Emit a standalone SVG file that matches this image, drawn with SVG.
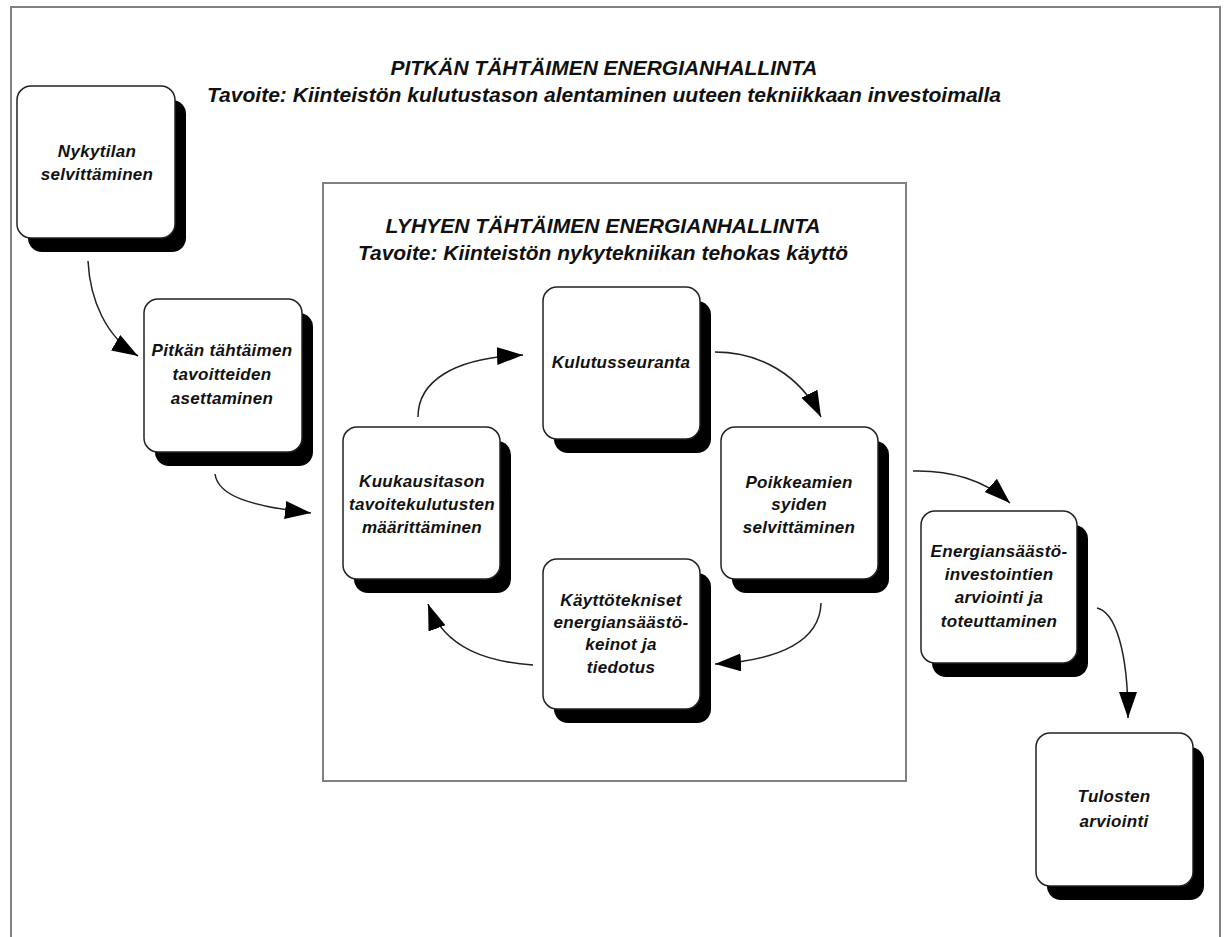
<svg xmlns="http://www.w3.org/2000/svg" width="1227" height="937" viewBox="0 0 1227 937">
<style>
.frame{fill:none;stroke:#808080;stroke-width:2}
.shadow{fill:#000}
.box{fill:#fff;stroke:#222;stroke-width:1.5}
.title{font-family:"Liberation Sans",Arial,sans-serif;font-weight:bold;font-style:italic;font-size:21px;fill:#111;text-anchor:middle}
.lbl{font-family:"Liberation Sans",Arial,sans-serif;font-weight:bold;font-style:italic;font-size:17px;fill:#111;text-anchor:middle;letter-spacing:0.3px}
.conn{fill:none;stroke:#222;stroke-width:1.5}
</style>
<defs>
<marker id="arr" markerUnits="userSpaceOnUse" markerWidth="28" markerHeight="20" refX="26" refY="9" orient="auto" viewBox="0 0 28 20">
<path d="M0,0 L26,9 L0,18 Z" fill="#000"/>
</marker>
</defs>
<rect width="1227" height="937" fill="#fff"/>
<path class="frame" d="M11 945 V7 H1220 V945"/>
<g id="main-title">
<text class="title" x="604" y="75" textLength="427" lengthAdjust="spacingAndGlyphs">PITKÄN TÄHTÄIMEN ENERGIANHALLINTA</text>
<text class="title" x="604" y="102" textLength="794" lengthAdjust="spacingAndGlyphs">Tavoite: Kiinteistön kulutustason alentaminen uuteen tekniikkaan investoimalla</text>
</g>
<g id="short-term-frame">
<rect class="frame" x="323" y="183" width="583" height="598" stroke="#707070"/>
<text class="title" x="603" y="233" textLength="435" lengthAdjust="spacingAndGlyphs">LYHYEN TÄHTÄIMEN ENERGIANHALLINTA</text>
<text class="title" x="603" y="260" textLength="490" lengthAdjust="spacingAndGlyphs">Tavoite: Kiinteistön nykytekniikan tehokas käyttö</text>
</g>
<g id="connectors">
<path class="conn" marker-end="url(#arr)" d="M88 261 C90 300 106 337 138 356"/>
<path class="conn" marker-end="url(#arr)" d="M215 474 C218 496 250 506 311 513"/>
<path class="conn" marker-end="url(#arr)" d="M418 417 C418 382 452 358 523 355"/>
<path class="conn" marker-end="url(#arr)" d="M715 352 C760 352 800 375 821 417"/>
<path class="conn" marker-end="url(#arr)" d="M821 603 C820 640 782 660 715 664"/>
<path class="conn" marker-end="url(#arr)" d="M533 665 C490 662 445 650 428 604"/>
<path class="conn" marker-end="url(#arr)" d="M913 471 C950 470 985 480 1010 503"/>
<path class="conn" marker-end="url(#arr)" d="M1097 608 C1115 612 1128 650 1128 718"/>
</g>
<g id="n-nykytila">
<rect class="shadow" x="28" y="100" width="158" height="152" rx="14"/>
<rect class="box" x="17" y="86" width="158" height="152" rx="14"/>
<text class="lbl" x="97" y="157">Nykytilan</text>
<text class="lbl" x="97" y="180">selvittäminen</text>
</g>
<g id="n-pitkan">
<rect class="shadow" x="155" y="313" width="158" height="153" rx="14"/>
<rect class="box" x="144" y="299" width="158" height="153" rx="14"/>
<text class="lbl" x="222" y="356">Pitkän tähtäimen</text>
<text class="lbl" x="222" y="380">tavoitteiden</text>
<text class="lbl" x="222" y="404">asettaminen</text>
</g>
<g id="n-kulutusseuranta">
<rect class="shadow" x="554" y="301" width="157" height="152" rx="14"/>
<rect class="box" x="543" y="287" width="157" height="152" rx="14"/>
<text class="lbl" x="621" y="368">Kulutusseuranta</text>
</g>
<g id="n-kuukausitaso">
<rect class="shadow" x="354" y="441" width="157" height="152" rx="14"/>
<rect class="box" x="343" y="427" width="157" height="152" rx="14"/>
<text class="lbl" x="422" y="487">Kuukausitason</text>
<text class="lbl" x="422" y="510">tavoitekulutusten</text>
<text class="lbl" x="422" y="533">määrittäminen</text>
</g>
<g id="n-poikkeamat">
<rect class="shadow" x="732" y="441" width="157" height="152" rx="14"/>
<rect class="box" x="721" y="427" width="157" height="152" rx="14"/>
<text class="lbl" x="799" y="488">Poikkeamien</text>
<text class="lbl" x="799" y="510">syiden</text>
<text class="lbl" x="799" y="533">selvittäminen</text>
</g>
<g id="n-kayttotekniset">
<rect class="shadow" x="554" y="573" width="157" height="150" rx="14"/>
<rect class="box" x="543" y="559" width="157" height="150" rx="14"/>
<text class="lbl" x="621" y="606">Käyttötekniset</text>
<text class="lbl" x="621" y="628">energiansäästö-</text>
<text class="lbl" x="621" y="650">keinot ja</text>
<text class="lbl" x="621" y="673">tiedotus</text>
</g>
<g id="n-investoinnit">
<rect class="shadow" x="932" y="525" width="156" height="152" rx="14"/>
<rect class="box" x="921" y="511" width="156" height="152" rx="14"/>
<text class="lbl" x="999" y="557">Energiansäästö-</text>
<text class="lbl" x="999" y="580">investointien</text>
<text class="lbl" x="999" y="603">arviointi ja</text>
<text class="lbl" x="999" y="627">toteuttaminen</text>
</g>
<g id="n-tulokset">
<rect class="shadow" x="1047" y="747" width="157" height="153" rx="14"/>
<rect class="box" x="1036" y="733" width="157" height="153" rx="14"/>
<text class="lbl" x="1114" y="802">Tulosten</text>
<text class="lbl" x="1114" y="827">arviointi</text>
</g>
</svg>
